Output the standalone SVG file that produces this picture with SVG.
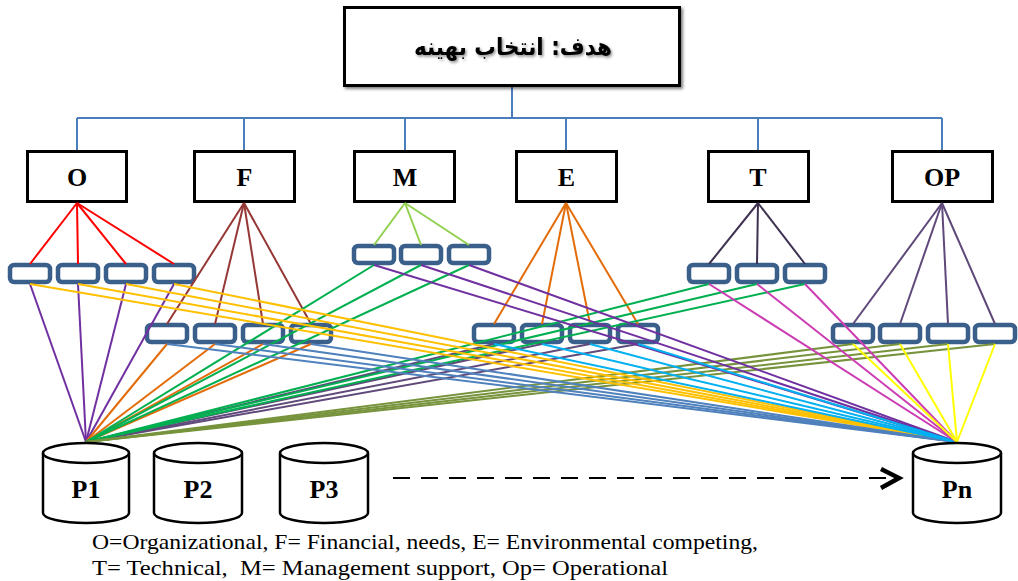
<svg xmlns="http://www.w3.org/2000/svg" width="1018" height="581" viewBox="0 0 1018 581">
<style>
.crit rect{fill:#fff;stroke:#000;stroke-width:3}
.crit text{font-family:"Liberation Serif","Times New Roman",serif;font-weight:bold;font-size:26px;text-anchor:middle;fill:#000}
.sub{fill:#fff;stroke:#3A5F8B;stroke-width:4.5}
.tree{stroke:#4A7EBB;stroke-width:2;fill:none}
.cn line{stroke-width:2;fill:none}
.cyl{fill:#fff;stroke:#000;stroke-width:2.5}
.cyltxt{font-family:"Liberation Serif","Times New Roman",serif;font-weight:bold;font-size:26px;text-anchor:middle;fill:#000}
.legend{font-family:"Liberation Serif","Times New Roman",serif;font-size:21px;fill:#000}
</style>
<defs>
<filter id="sh" x="-10%" y="-10%" width="130%" height="140%">
<feDropShadow dx="2" dy="2" stdDeviation="1.5" flood-color="#000" flood-opacity="0.5"/>
</filter>
<filter id="tsh" x="-10%" y="-30%" width="130%" height="170%">
<feDropShadow dx="1.5" dy="1.5" stdDeviation="1.2" flood-color="#000" flood-opacity="0.45"/>
</filter>
</defs>

<g id="tree" class="tree">
<path d="M512,87 V118 M77,118 H942 M77,118 V150 M244,118 V150 M405,118 V150 M566,118 V150 M758,118 V150 M942,118 V150"/>
</g>

<g id="goal">
<rect x="344.5" y="7.5" width="335" height="78" fill="#fff" stroke="#000" stroke-width="3" filter="url(#sh)"/>
<text x="513" y="55" font-family="'DejaVu Sans',sans-serif" font-weight="bold" font-size="21.5" text-anchor="middle" direction="rtl" filter="url(#tsh)" transform="translate(513 55) scale(1 1.12) translate(-513 -55)">هدف: انتخاب بهینه</text>
</g>

<g id="crit-O" class="crit"><rect x="27.5" y="151.5" width="99" height="50"/><text x="77" y="186">O</text></g>
<g id="crit-F" class="crit"><rect x="194.5" y="151.5" width="100" height="50"/><text x="244.5" y="186">F</text></g>
<g id="crit-M" class="crit"><rect x="354.5" y="151.5" width="100" height="50"/><text x="405" y="186">M</text></g>
<g id="crit-E" class="crit"><rect x="516.5" y="151.5" width="100" height="50"/><text x="566.5" y="186">E</text></g>
<g id="crit-T" class="crit"><rect x="708.5" y="151.5" width="100" height="50"/><text x="758" y="186">T</text></g>
<g id="crit-OP" class="crit"><rect x="892.5" y="151.5" width="100" height="50"/><text x="942" y="186">OP</text></g>

<g id="subs-O"><rect class="sub" x="10" y="265" width="40" height="17" rx="4"/><rect class="sub" x="58" y="265" width="40" height="17" rx="4"/><rect class="sub" x="106" y="265" width="40" height="17" rx="4"/><rect class="sub" x="154" y="265" width="40" height="17" rx="4"/></g>
<g id="subs-F"><rect class="sub" x="147" y="325" width="40" height="17" rx="4"/><rect class="sub" x="195" y="325" width="40" height="17" rx="4"/><rect class="sub" x="243" y="325" width="40" height="17" rx="4"/><rect class="sub" x="291" y="325" width="40" height="17" rx="4"/></g>
<g id="subs-M"><rect class="sub" x="354" y="246" width="40" height="17" rx="4"/><rect class="sub" x="401" y="246" width="40" height="17" rx="4"/><rect class="sub" x="449" y="246" width="40" height="17" rx="4"/></g>
<g id="subs-E"><rect class="sub" x="474" y="325" width="40" height="17" rx="4"/><rect class="sub" x="522" y="325" width="40" height="17" rx="4"/><rect class="sub" x="570" y="325" width="40" height="17" rx="4"/><rect class="sub" x="618" y="325" width="40" height="17" rx="4"/></g>
<g id="subs-T"><rect class="sub" x="689" y="265" width="40" height="17" rx="4"/><rect class="sub" x="737" y="265" width="40" height="17" rx="4"/><rect class="sub" x="785" y="265" width="40" height="17" rx="4"/></g>
<g id="subs-OP"><rect class="sub" x="833" y="325" width="40" height="17" rx="4"/><rect class="sub" x="880" y="325" width="40" height="17" rx="4"/><rect class="sub" x="928" y="325" width="40" height="17" rx="4"/><rect class="sub" x="975" y="325" width="40" height="17" rx="4"/></g>

<g id="connectors" class="cn">
<g stroke="#FF0000"><line x1="77" y1="203" x2="30" y2="264"/><line x1="77" y1="203" x2="78" y2="264"/><line x1="77" y1="203" x2="126" y2="264"/><line x1="77" y1="203" x2="174" y2="264"/></g>
<g stroke="#953735"><line x1="244" y1="203" x2="167" y2="324"/><line x1="244" y1="203" x2="215" y2="324"/><line x1="244" y1="203" x2="263" y2="324"/><line x1="244" y1="203" x2="311" y2="324"/></g>
<g stroke="#92D050"><line x1="405" y1="203" x2="374" y2="245"/><line x1="405" y1="203" x2="421" y2="245"/><line x1="405" y1="203" x2="469" y2="245"/></g>
<g stroke="#E36C09"><line x1="566" y1="203" x2="494" y2="324"/><line x1="566" y1="203" x2="542" y2="324"/><line x1="566" y1="203" x2="590" y2="324"/><line x1="566" y1="203" x2="638" y2="324"/></g>
<g stroke="#3F3151"><line x1="758" y1="203" x2="709" y2="264"/><line x1="758" y1="203" x2="757" y2="264"/><line x1="758" y1="203" x2="805" y2="264"/></g>
<g stroke="#5F497A"><line x1="942" y1="203" x2="853" y2="324"/><line x1="942" y1="203" x2="900" y2="324"/><line x1="942" y1="203" x2="948" y2="324"/><line x1="942" y1="203" x2="995" y2="324"/></g>
<g stroke="#7030A0"><line x1="30" y1="284" x2="86" y2="442"/><line x1="78" y1="284" x2="86" y2="442"/><line x1="126" y1="284" x2="86" y2="442"/><line x1="174" y1="284" x2="86" y2="442"/></g>
<g stroke="#E36C09"><line x1="167" y1="344" x2="86" y2="442"/><line x1="215" y1="344" x2="86" y2="442"/><line x1="263" y1="344" x2="86" y2="442"/><line x1="311" y1="344" x2="86" y2="442"/></g>
<g stroke="#00B050"><line x1="374" y1="265" x2="86" y2="442"/><line x1="421" y1="265" x2="86" y2="442"/><line x1="469" y1="265" x2="86" y2="442"/></g>
<g stroke="#604A7B"><line x1="494" y1="344" x2="86" y2="442"/><line x1="542" y1="344" x2="86" y2="442"/><line x1="590" y1="344" x2="86" y2="442"/><line x1="638" y1="344" x2="86" y2="442"/></g>
<g stroke="#00B050"><line x1="709" y1="284" x2="86" y2="442"/><line x1="757" y1="284" x2="86" y2="442"/><line x1="805" y1="284" x2="86" y2="442"/></g>
<g stroke="#77933C"><line x1="853" y1="344" x2="86" y2="442"/><line x1="900" y1="344" x2="86" y2="442"/><line x1="948" y1="344" x2="86" y2="442"/><line x1="995" y1="344" x2="86" y2="442"/></g>
<g stroke="#FFC000"><line x1="30" y1="284" x2="957" y2="442"/><line x1="78" y1="284" x2="957" y2="442"/><line x1="126" y1="284" x2="957" y2="442"/><line x1="174" y1="284" x2="957" y2="442"/></g>
<g stroke="#4F81BD"><line x1="167" y1="344" x2="957" y2="442"/><line x1="215" y1="344" x2="957" y2="442"/><line x1="263" y1="344" x2="957" y2="442"/><line x1="311" y1="344" x2="957" y2="442"/></g>
<g stroke="#7030A0"><line x1="374" y1="265" x2="957" y2="442"/><line x1="421" y1="265" x2="957" y2="442"/><line x1="469" y1="265" x2="957" y2="442"/></g>
<g stroke="#00B0F0"><line x1="494" y1="344" x2="957" y2="442"/><line x1="542" y1="344" x2="957" y2="442"/><line x1="590" y1="344" x2="957" y2="442"/><line x1="638" y1="344" x2="957" y2="442"/></g>
<g stroke="#CC3DB4"><line x1="709" y1="284" x2="957" y2="442"/><line x1="757" y1="284" x2="957" y2="442"/><line x1="805" y1="284" x2="957" y2="442"/></g>
<g stroke="#FFFF00"><line x1="853" y1="344" x2="957" y2="442"/><line x1="900" y1="344" x2="957" y2="442"/><line x1="948" y1="344" x2="957" y2="442"/><line x1="995" y1="344" x2="957" y2="442"/></g>
<g stroke="#000" stroke-width="4.5" fill="none">
<line x1="393" y1="478" x2="894" y2="478" stroke-dasharray="17 11"/>
<polyline points="881,469 899,478 881,488" stroke-linejoin="miter"/>
</g>
</g>

<g id="P1"><path class="cyl" d="M43,453 V513 A43,10 0 0 0 129,513 V453"/><ellipse class="cyl" cx="86" cy="453" rx="43" ry="10"/><text class="cyltxt" x="86" y="498">P1</text></g>
<g id="P2"><path class="cyl" d="M154,453 V513 A44,10 0 0 0 242,513 V453"/><ellipse class="cyl" cx="198" cy="453" rx="44" ry="10"/><text class="cyltxt" x="198" y="498">P2</text></g>
<g id="P3"><path class="cyl" d="M280,453 V513 A44,10 0 0 0 368,513 V453"/><ellipse class="cyl" cx="324" cy="453" rx="44" ry="10"/><text class="cyltxt" x="324" y="498">P3</text></g>
<g id="Pn"><path class="cyl" d="M913,453 V513 A44,10 0 0 0 1001,513 V453"/><ellipse class="cyl" cx="957" cy="453" rx="44" ry="10"/><text class="cyltxt" x="957" y="498">Pn</text></g>

<g id="legend">
<text class="legend" x="92" y="549" textLength="666" lengthAdjust="spacingAndGlyphs">O=Organizational, F= Financial, needs, E= Environmental competing,</text>
<text class="legend" x="92" y="575" textLength="576" lengthAdjust="spacingAndGlyphs" xml:space="preserve">T= Technical,  M= Management support, Op= Operational</text>
</g>
</svg>
